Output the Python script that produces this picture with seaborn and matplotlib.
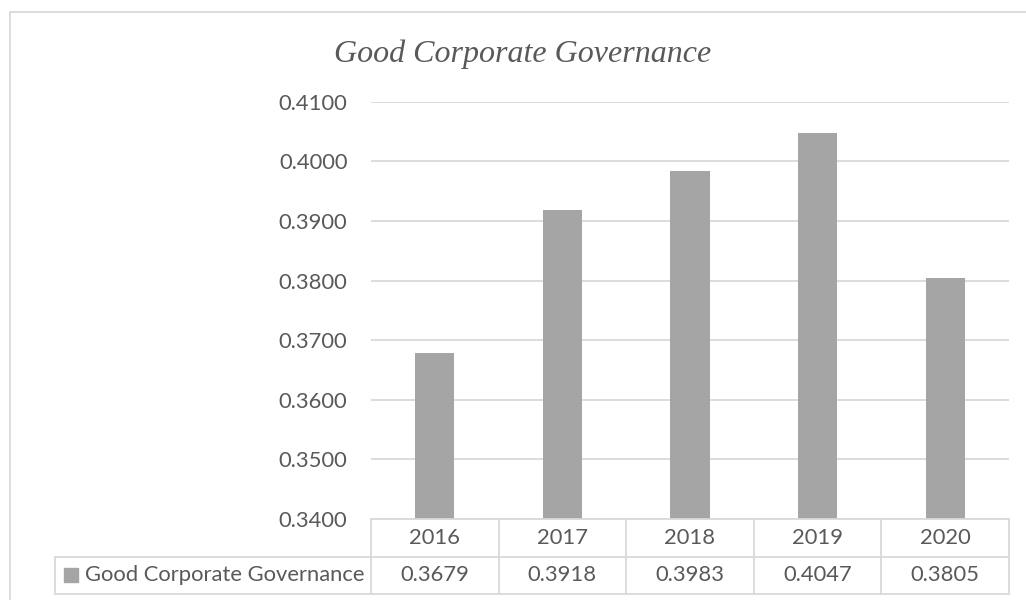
import matplotlib
matplotlib.use("Agg")
import matplotlib.pyplot as plt
import matplotlib.transforms as mtransforms
from matplotlib.lines import Line2D
from matplotlib.patches import Rectangle
import seaborn as sns
import pandas as pd

# ---- data ----
years = ["2016", "2017", "2018", "2019", "2020"]
values = [0.3679, 0.3918, 0.3983, 0.4047, 0.3805]
series_name = "Good Corporate Governance"
title = "Good Corporate Governance"
y_ticks = [0.34, 0.35, 0.36, 0.37, 0.38, 0.39, 0.40, 0.41]

sns.set_theme(style="white")
plt.rcParams['font.family'] = ['Lato', 'DejaVu Sans']

TXT = "#595959"
GRID = "#D9D9D9"
BAR = "#A5A5A5"
FS = 15.8

W, H = 1026, 600
fig = plt.figure(figsize=(W / 100, H / 100), dpi=100)
fig.patch.set_facecolor("white")

def fx(px):
    return px / W

def fy(py):
    return 1 - py / H

left, right = 371, 1009
top, bottom = 101.7, 519
ax = fig.add_axes([fx(left), fy(bottom), fx(right - left), (bottom - top) / H])

df = pd.DataFrame({"year": years, "value": values})
sns.barplot(data=df, x="year", y="value", order=years, color=BAR,
            saturation=1, width=0.306, ax=ax, zorder=3, linewidth=0)

ax.set_ylim(0.34, 0.41)
ax.set_xlim(-0.5, len(years) - 0.5)
ax.set_yticks(y_ticks)
ax.set_yticklabels([f"{v:.4f}" for v in y_ticks], color=TXT, fontsize=FS)
ax.set_xticks([])
ax.set_xlabel("")
ax.set_ylabel("")
ax.tick_params(axis="y", length=0, pad=17)
for s in ax.spines.values():
    s.set_visible(False)
ax.yaxis.grid(True, color=GRID, linewidth=1.3, zorder=0)
ax.set_axisbelow(True)

# ---- outer chart border ----
fig.add_artist(Line2D([fx(10), fx(10)], [fy(12), fy(600)], color=GRID, lw=1.3,
                      transform=fig.transFigure))
fig.add_artist(Line2D([fx(10), fx(1026)], [fy(12), fy(12)], color=GRID, lw=1.3,
                      transform=fig.transFigure))

# ---- title ----
fig.text(fx(523), fy(54), title, ha="center", va="center", color=TXT,
         fontsize=23, style="italic", family=["Liberation Serif", "DejaVu Serif"])

# ---- data table ----
trans = mtransforms.blended_transform_factory(ax.transData, fig.transFigure)
r0, r1, r2 = 519, 556.5, 593.5
n = len(years)
fig.add_artist(Line2D([-0.5, n - 0.5], [fy(r0), fy(r0)], color=GRID, lw=1.3,
                      transform=trans, clip_on=False))
for r in (r1, r2):
    fig.add_artist(Line2D([fx(55), fx(right)], [fy(r), fy(r)], color=GRID, lw=1.3,
                          transform=fig.transFigure, clip_on=False))
fig.add_artist(Line2D([fx(55), fx(55)], [fy(r1), fy(r2)], color=GRID, lw=1.3,
                      transform=fig.transFigure))
for i in range(n + 1):
    xb = i - 0.5
    fig.add_artist(Line2D([xb, xb], [fy(r0), fy(r2)], color=GRID, lw=1.3,
                          transform=trans, clip_on=False))
for i, (yr, v) in enumerate(zip(years, values)):
    fig.text(i, fy((r0 + r1) / 2), yr, transform=trans, ha="center", va="center",
             color=TXT, fontsize=FS)
    fig.text(i, fy((r1 + r2) / 2), f"{v:.4f}", transform=trans, ha="center",
             va="center", color=TXT, fontsize=FS)
fig.add_artist(Rectangle((fx(64), fy(582)), fx(14), 14 / H, color=BAR,
                         transform=fig.transFigure))
fig.text(fx(85), fy((r1 + r2) / 2), series_name, ha="left", va="center",
         color=TXT, fontsize=FS)

fig.savefig("out.png", dpi=100, facecolor="white")
